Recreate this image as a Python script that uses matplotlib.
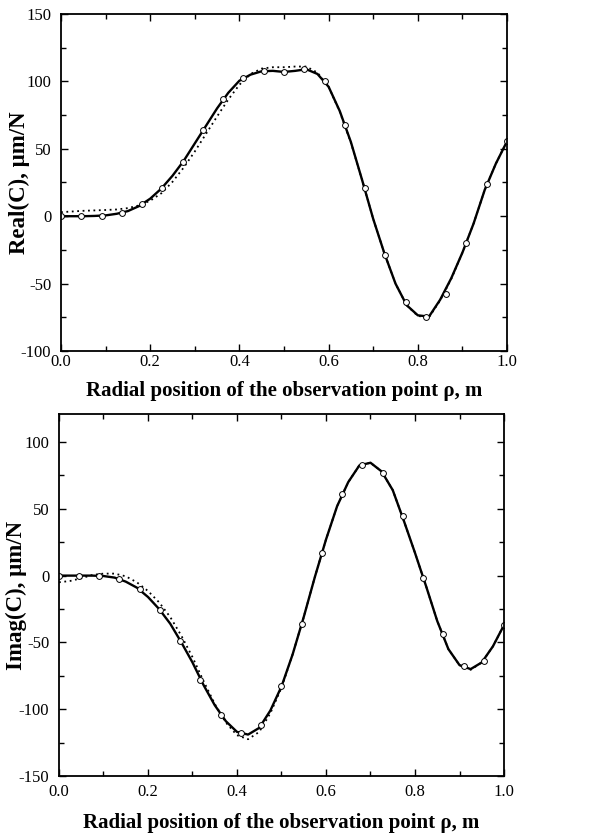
import matplotlib
matplotlib.use("Agg")
import matplotlib.pyplot as plt
from matplotlib.ticker import MultipleLocator, FormatStrFormatter

plt.rcParams["font.family"] = ["Liberation Serif", "DejaVu Serif"]
plt.rcParams["axes.unicode_minus"] = False

# Radial positions of the computed points (open circles)
rho_pts = [0.0, 0.045, 0.091, 0.136, 0.182, 0.227, 0.273, 0.318, 0.364, 0.409,
           0.455, 0.5, 0.545, 0.591, 0.636, 0.682, 0.727, 0.773, 0.818, 0.864,
           0.909, 0.955, 1.0]
real_pts = [0, 0, 0.5, 2.6, 9, 21, 40.5, 64, 87, 102.8, 108, 107, 109, 100, 68,
            21, -28.8, -64, -75, -57.7, -20, 23.6, 55.5]
imag_pts = [0, 0, 0, -2.5, -10, -25.5, -49, -78, -104, -118, -112, -83, -36, 17,
            61, 83, 77, 44.5, -1.7, -44, -67.5, -64, -37]

# Radial grid of the continuous curves
rho_line = [0.0, 0.025, 0.05, 0.075, 0.1, 0.125, 0.15, 0.175, 0.2, 0.225, 0.25,
            0.275, 0.3, 0.325, 0.35, 0.375, 0.4, 0.425, 0.45, 0.475, 0.5, 0.525,
            0.55, 0.575, 0.6, 0.625, 0.65, 0.675, 0.7, 0.725, 0.75, 0.775, 0.8,
            0.825, 0.85, 0.875, 0.9, 0.925, 0.95, 0.975, 1.0]

# Real part: exact solution (solid) and approximation (dotted)
real_exact = [0, 0, 0, 0.2, 0.6, 1.8, 3.8, 7.5, 13, 20.5, 30, 41, 54, 67, 80,
              91.5, 100.5, 105, 107.5, 107.8, 107, 107.8, 109, 105.5, 96, 78, 55,
              27, -2, -27.5, -50, -66, -73.5, -74.5, -62, -46, -27, -5.5, 19.5,
              39, 55.5]
real_approx = [3, 3.5, 4, 4.3, 4.6, 5, 6, 8, 11.5, 17, 25.5, 36, 48, 61, 74,
               86.5, 97.5, 105.5, 109.5, 110.5, 110.5, 111, 111, 106.5, 96, 77.5,
               54.5, 27, -2, -27.5, -50, -66, -74, -75, -62.5, -46.5, -27, -5.5,
               19.5, 39, 55.5]

# Imaginary part: exact solution (solid) and approximation (dotted)
imag_exact = [0, 0, 0, 0, -0.3, -1.5, -4.5, -9, -16, -25, -36, -50, -65, -82,
              -97, -109, -117, -119, -114, -101, -83, -59, -31, -1, 27, 52, 70,
              82.5, 84.5, 78, 64, 41, 17, -8, -34, -55, -67, -70, -65, -53, -37]
imag_approx = [-5, -4, -2, 0.5, 1.5, 1.5, -0.5, -5, -11.5, -20, -31, -45, -61,
               -79, -96, -110, -119.5, -122.5, -117, -103, -84, -59, -31, -1, 27,
               52, 70, 82.5, 84.5, 78, 64, 41, 17, -8, -34, -55, -67, -70.5, -65,
               -53, -37]

xlabel = "Radial position of the observation point \u03c1, m"
ylabels = ["Real(C), \u03bcm/N", "Imag(C), \u03bcm/N"]

fig = plt.figure(figsize=(6.13, 8.36), dpi=100)
ax1 = fig.add_axes([0.0995, 0.5801, 0.7276, 0.4032])
ax2 = fig.add_axes([0.0962, 0.0718, 0.7260, 0.4330])


def draw(ax, exact, approx, pts, ylim, ystep, ylabel, xpad, xlab_y, ylab_x):
    ax.plot(rho_line, approx, color="black", linestyle=(0, (1, 2)), lw=1.3)
    ax.plot(rho_line, exact, color="black", linestyle="-", lw=1.7,
            solid_joinstyle="round")
    ax.plot(rho_pts, pts, linestyle="none", marker="o", ms=4.2,
            markerfacecolor="white", markeredgecolor="black", mew=0.7)
    ax.set_xlim(0, 1)
    ax.set_ylim(*ylim)
    ax.xaxis.set_major_locator(MultipleLocator(0.2))
    ax.xaxis.set_minor_locator(MultipleLocator(0.1))
    ax.yaxis.set_major_locator(MultipleLocator(ystep))
    ax.yaxis.set_minor_locator(MultipleLocator(ystep / 2))
    ax.xaxis.set_major_formatter(FormatStrFormatter("%.1f"))
    ax.yaxis.set_major_formatter(FormatStrFormatter("%d"))
    ax.tick_params(which="both", direction="in", top=True, right=True,
                   width=1.0, labelsize=12)
    ax.tick_params(which="major", length=5)
    ax.tick_params(which="minor", length=3.5)
    ax.tick_params(axis="x", pad=xpad)
    ax.tick_params(axis="y", pad=7)
    for s in ax.spines.values():
        s.set_linewidth(1.3)
    ax.set_xlabel(xlabel, fontsize=15, fontweight="bold")
    ax.set_ylabel(ylabel, fontsize=16.5, fontweight="bold")
    ax.xaxis.set_label_coords(0.5, xlab_y)
    ax.yaxis.set_label_coords(ylab_x, 0.5)


draw(ax1, real_exact, real_approx, real_pts, (-100, 150), 50, ylabels[0],
     2, -0.088, -0.07)
draw(ax2, imag_exact, imag_approx, imag_pts, (-150, 121), 50, ylabels[1],
     6, -0.102, -0.072)

fig.savefig("out.png", dpi=100)
